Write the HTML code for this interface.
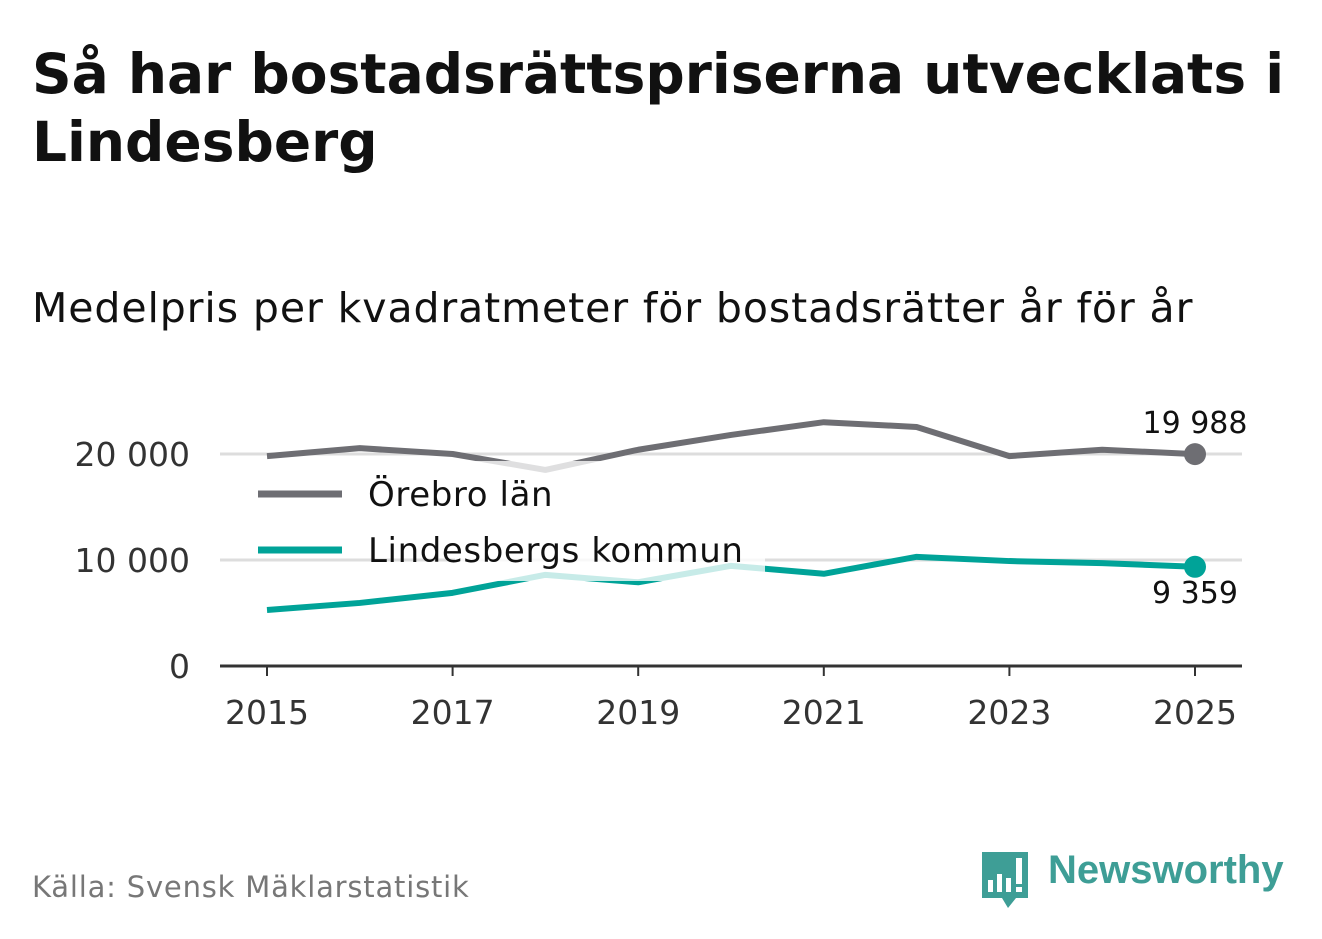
<!DOCTYPE html>
<html><head><meta charset="utf-8"><style>
body{margin:0;width:1322px;height:939px;background:#fff;font-family:"DejaVu Sans","Liberation Sans",sans-serif;overflow:hidden;position:relative}
.t{position:absolute;left:32px;top:40px;font-size:55px;font-weight:bold;color:#111;line-height:68px;letter-spacing:0px;margin:0;white-space:nowrap}
.s{position:absolute;left:32px;top:284px;font-size:41px;color:#111;letter-spacing:0.9px;white-space:nowrap}
.src{position:absolute;left:32px;top:870px;font-size:29px;color:#777;letter-spacing:0.8px}
</style></head><body>
<h1 class="t">Så har bostadsrättspriserna utvecklats i<br>Lindesberg</h1>
<div class="s">Medelpris per kvadratmeter för bostadsrätter år för år</div>
<svg id="c" width="1322" height="939" style="position:absolute;left:0;top:0"></svg>
<div class="src">Källa: Svensk Mäklarstatistik</div>
<div style="position:absolute;left:980px;top:850px">
<svg width="50" height="60"><path d="M2 2h46v46H36l-8 10-6-10H2z" fill="#3e9e96"/><rect x="8" y="30" width="5" height="12" fill="#fff"/><rect x="17" y="24" width="5" height="18" fill="#fff"/><rect x="26" y="28" width="5" height="14" fill="#fff"/><rect x="36" y="8" width="6" height="26" fill="#fff"/><rect x="36" y="37" width="6" height="5" fill="#fff"/></svg>
<span style="position:absolute;left:68px;top:-2px;font-size:40px;font-weight:bold;color:#3e9e96;font-family:'Liberation Sans',sans-serif;white-space:nowrap">Newsworthy</span></div>
<script>
const years=[2015,2016,2017,2018,2019,2020,2021,2022,2023,2024,2025];
const orebro=[19800,20550,20000,18500,20400,21800,23000,22550,19800,20400,19988];
const lindes=[5280,5950,6900,8600,7900,9450,8700,10300,9900,9700,9359];
const yTicks=[0,10000,20000];
const xTicks=[2015,2017,2019,2021,2023,2025];
const svg=document.getElementById('c');const NS='http://www.w3.org/2000/svg';
const x=v=>267+(v-2015)*92.8, y=v=>666-v*0.0106;
function el(t,a,p){const e=document.createElementNS(NS,t);for(const k in a)e.setAttribute(k,a[k]);(p||svg).appendChild(e);return e;}
const fmt=v=>String(v).replace(/\B(?=(\d{3})+(?!\d))/g,' ');
yTicks.forEach(v=>{if(v>0){const g=el('line',{x1:220,x2:1242,y1:y(v),y2:y(v),stroke:'#ddd','stroke-width':3});}
const t=el('text',{x:190,y:y(v)+12,'text-anchor':'end','font-size':33,fill:'#333'});t.textContent=fmt(v);});
const ax=el('line',{x1:220,x2:1242,y1:666,y2:666,stroke:'#333','stroke-width':3});
xTicks.forEach(v=>{el('line',{x1:x(v),x2:x(v),y1:666,y2:676,stroke:'#333','stroke-width':2});const t=el('text',{x:x(v),y:724,'text-anchor':'middle','font-size':33,fill:'#333'});t.textContent=v;});
function line(d,c,n){const p=el('polyline',{points:d.map((v,i)=>x(years[i])+','+y(v)).join(' '),fill:'none',stroke:c,'stroke-width':6,'stroke-linejoin':'round'});
const l=d.length-1;const dt=el('circle',{cx:x(years[l]),cy:y(d[l]),r:11,fill:c});}
line(orebro,'#6e6e73','orebro-line');line(lindes,'#00a398','lindesberg-line');
el('rect',{x:455,y:461,width:310,height:120,fill:'#fff','fill-opacity':0.78});
const l1=el('text',{x:1195,y:433,'text-anchor':'middle','font-size':30,fill:'#111'});l1.textContent=fmt(orebro[10]);
const l2=el('text',{x:1195,y:603,'text-anchor':'middle','font-size':30,fill:'#111'});l2.textContent=fmt(lindes[10]);
[['Örebro län','#6e6e73',494],['Lindesbergs kommun','#00a398',550]].forEach(([n,c,yy])=>{el('line',{x1:258,x2:342,y1:yy,y2:yy,stroke:c,'stroke-width':7});const t=el('text',{x:368,y:yy+12,'font-size':34,fill:'#111','letter-spacing':0.6});t.textContent=n;});
</script></body></html>
